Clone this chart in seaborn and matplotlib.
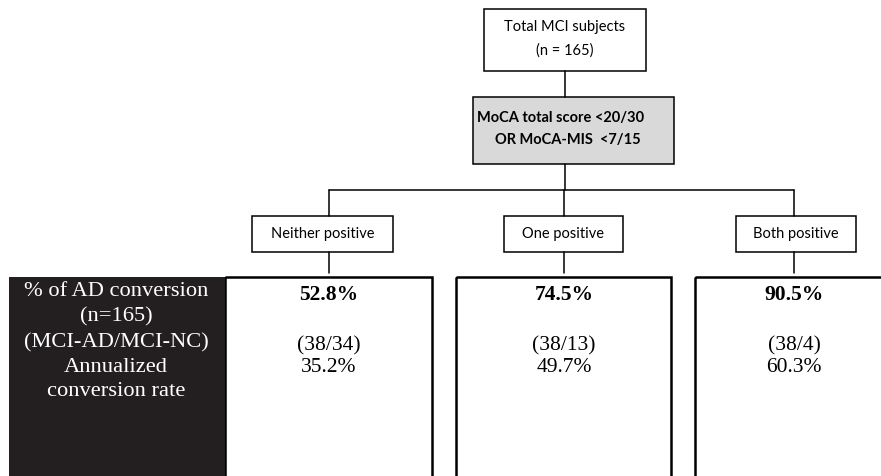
import matplotlib.pyplot as plt
import seaborn as sns
from matplotlib.patches import Rectangle

# Data shown in the flowchart
groups = ["Neither positive", "One positive", "Both positive"]
conversion_pct = ["52.8%", "74.5%", "90.5%"]
counts = ["(38/34)", "(38/13)", "(38/4)"]
annualized = ["35.2%", "49.7%", "60.3%"]
row_labels = ["% of AD conversion", "(n=165)", "(MCI-AD/MCI-NC)", "Annualized", "conversion rate"]
top_lines = ["Total MCI subjects", "(n = 165)"]
criteria_lines = ["MoCA total score <20/30", "OR MoCA-MIS  <7/15"]

sns.set_style("white")

fig = plt.figure(figsize=(8.81, 4.76), dpi=100)
ax = fig.add_axes([0, 0, 1, 1])
ax.set_xlim(0, 881)
ax.set_ylim(476, 0)
ax.axis("off")

sans = "Lato"
serif = "Liberation Serif"
lw = 1.1
ink = "black"

# Top box
ax.add_patch(Rectangle((484, 9), 162, 62, fill=False, ec=ink, lw=lw))
ax.text(564.5, 27, top_lines[0], ha="center", va="center", fontsize=10.5, family=sans, color=ink)
ax.text(564.5, 51, top_lines[1], ha="center", va="center", fontsize=10.5, family=sans, color=ink)
ax.plot([565, 565], [71, 97], color=ink, lw=lw)

# Criteria box
ax.add_patch(Rectangle((473, 97), 201, 67, fc="#d9d9d9", ec=ink, lw=lw))
ax.text(477, 118, criteria_lines[0], ha="left", va="center", fontsize=10.5,
        family=sans, fontweight="bold", color=ink)
ax.text(495, 140, criteria_lines[1], ha="left", va="center", fontsize=10.5,
        family=sans, fontweight="bold", color=ink)
ax.plot([565, 565], [164, 190], color=ink, lw=lw)

# Branches
centers = [329, 564, 794]
box_left = [252, 504, 736]
box_right = [393, 623, 856]
ax.plot([centers[0], centers[-1]], [190, 190], color=ink, lw=lw)
for i, g in enumerate(groups):
    c = centers[i]
    ax.plot([c, c], [190, 216], color=ink, lw=lw)
    ax.add_patch(Rectangle((box_left[i], 216), box_right[i] - box_left[i], 36,
                           fill=False, ec=ink, lw=lw))
    ax.text((box_left[i] + box_right[i]) / 2, 234, g, ha="center", va="center",
            fontsize=10.5, family=sans, color=ink)
    ax.plot([c, c], [252, 273], color=ink, lw=lw)

# Result boxes
res_left = [225, 456, 695]
res_right = [432, 671, 890]
for i in range(len(groups)):
    c = centers[i]
    ax.add_patch(Rectangle((res_left[i], 277), res_right[i] - res_left[i], 210,
                           fill=False, ec=ink, lw=1.8))
    ax.text(c, 295, conversion_pct[i], ha="center", va="center", fontsize=15.5,
            family=serif, fontweight="bold", color=ink)
    ax.text(c, 346, counts[i], ha="center", va="center", fontsize=15.5, family=serif, color=ink)
    ax.text(c, 367, annualized[i], ha="center", va="center", fontsize=15.5, family=serif, color=ink)

# Black label column
ax.add_patch(Rectangle((9, 277), 216, 210, fc="#231f20", ec="#231f20", lw=0))
label_y = [292, 317, 343, 368, 392]
for y, t in zip(label_y, row_labels):
    ax.text(116, y, t, ha="center", va="center", fontsize=16.2, family=serif, color="white")

plt.savefig("out.png", dpi=100)
plt.close()
